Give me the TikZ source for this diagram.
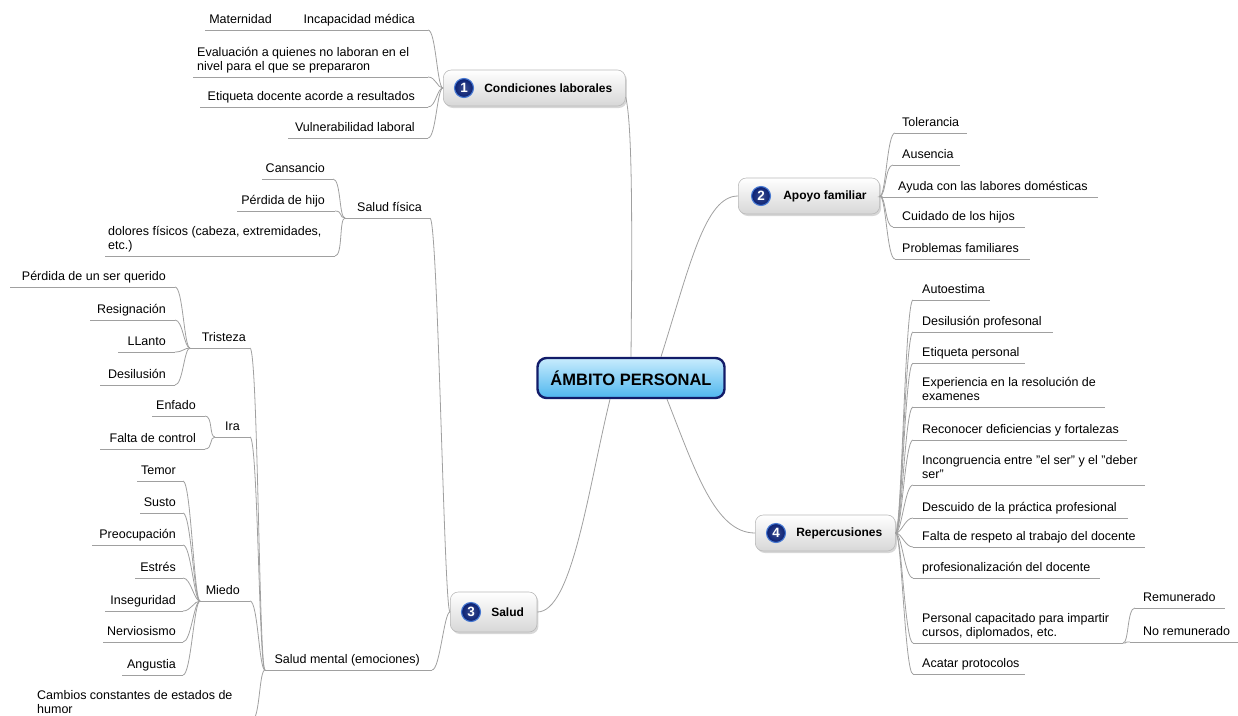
\documentclass[tikz,border=0pt]{standalone}
\usepackage{fontspec}
\setmainfont{Liberation Sans}
\usetikzlibrary{shadows}
\definecolor{linegray}{RGB}{160,160,160}
\definecolor{boxgray}{RGB}{215,215,215}
\definecolor{boxedge}{RGB}{185,185,185}
\definecolor{badgeblue}{RGB}{10,32,115}
\definecolor{badgering}{RGB}{70,120,210}
\definecolor{ctop}{RGB}{200,236,253}
\definecolor{cbot}{RGB}{78,182,238}
\definecolor{cedge}{RGB}{18,28,105}
\newcommand\leaffont{\fontsize{12.5}{14}\selectfont}
\newcommand\twolines[1]{\begin{tabular}[b]{@{}l@{}}#1\end{tabular}}
\tikzset{
  conn/.style={draw=linegray, line width=0.8pt},
  uline/.style={draw=linegray, line width=0.8pt},
  leaf/.style={inner sep=0pt, font=\leaffont},
  mainbox/.style={rounded corners=8pt, top color=white, bottom color=boxgray,
    draw=boxedge, line width=0.6pt, minimum height=36pt, inner xsep=13pt,
    font=\bfseries\fontsize{12}{14}\selectfont,
    drop shadow={shadow xshift=1.5pt, shadow yshift=-2pt, opacity=0.35, fill=black!45}},
  badge/.style={circle, minimum size=19pt, inner sep=0pt, inner color=badgeblue!80!white,
    outer color=badgeblue, draw=badgering, line width=1.1pt,
    text=white, font=\bfseries\fontsize{13.5}{13.5}\selectfont},
  central/.style={rounded corners=9pt, top color=ctop, bottom color=cbot, draw=cedge,
    line width=2.4pt, minimum width=187pt, minimum height=40pt,
    font=\bfseries\fontsize{16.5}{18}\selectfont}
}
% left leaf: name, text right x, uline left x, uline right x, uline y, fan, text
\newcommand\lleaf[7]{%
  \node[leaf,anchor=base east] (#1) at (#2,#5-7) {#7};
  \coordinate (#1f) at (#3,#5);
  \coordinate (#1e) at (#4,#5);
  \draw[uline] (#1f) -- (#1e);
  \draw[conn] (#1e) .. controls +(8,0) and +(-6,0) .. (#6);
}
% left leaf, left aligned text: name, text left x, ...
\newcommand\lleafm[7]{%
  \node[leaf,anchor=base west] (#1) at (#2,#5-7) {#7};
  \coordinate (#1f) at (#3,#5);
  \coordinate (#1e) at (#4,#5);
  \draw[uline] (#1f) -- (#1e);
  \draw[conn] (#1e) .. controls +(8,0) and +(-6,0) .. (#6);
}
% right leaf: name, text left x, uline left x, uline right x, uline y, fan, text
\newcommand\rleaf[7]{%
  \node[leaf,anchor=base west] (#1) at (#2,#5-7) {#7};
  \coordinate (#1f) at (#3,#5);
  \coordinate (#1e) at (#4,#5);
  \draw[uline] (#1f) -- (#1e);
  \draw[conn] (#6) .. controls +(6,0) and +(-8,0) .. (#1f);
}
\begin{document}
\begin{tikzpicture}[x=1pt,y=-1pt]
\useasboundingbox (0,0) rectangle (1238,715);

% central
\node[central] (C) at (631,378) {ÁMBITO PERSONAL};

% main boxes
\node[mainbox, anchor=west] (c1) at (443,88) {\hspace*{28pt}Condiciones laborales};
\node[badge] (b1) at ([xshift=21pt]c1.west) {1};
\node[mainbox, anchor=west] (a2) at (738,196) {\hspace*{32pt}Apoyo familiar};
\node[badge] (b2) at ([xshift=23pt]a2.west) {2};
\node[mainbox, anchor=west, minimum height=40pt] (s3) at (450,612) {\hspace*{28pt}Salud};
\node[badge] (b3) at ([xshift=21pt]s3.west) {3};
\node[mainbox, anchor=west] (r4) at (755,533) {\hspace*{28pt}Repercusiones};
\node[badge] (b4) at ([xshift=21pt]r4.west) {4};

% central connectors
\coordinate (c1k) at ([yshift=-9pt]c1.east);
\draw[conn] (C.north) .. controls (632,250) and (633,125) .. (c1k);
\draw[conn] ([xshift=30pt]C.north) .. controls (690,265) and (705,196) .. (a2.west);
\draw[conn] ([xshift=-21pt]C.south) .. controls (588,490) and (572,612) .. (s3.east);
\draw[conn] ([xshift=36pt]C.south) .. controls (695,470) and (715,533) .. (r4.west);

% Condiciones laborales
\node[leaf,anchor=base east] (mat) at (272,23) {Maternidad};
\coordinate (matf) at (205,30);
\coordinate (mate) at (297,30);
\draw[uline] (matf) -- (mate);
\lleaf{inc}{415}{297}{428}{30}{c1.west}{Incapacidad médica}
\lleafm{eva}{197}{193}{428}{77}{c1.west}{\twolines{Evaluación a quienes no laboran en el\\nivel para el que se prepararon}}
\lleaf{eti}{415}{200}{428}{107}{c1.west}{Etiqueta docente acorde a resultados}
\lleaf{vul}{415}{288}{428}{138}{c1.west}{Vulnerabilidad laboral}

% Salud
\lleaf{sf}{422}{345}{430}{218}{s3.west}{Salud física}
\lleaf{sm}{420}{265}{432}{670}{s3.west}{Salud mental (emociones)}

\lleaf{can}{325}{262}{333}{179}{sff}{Cansancio}
\lleaf{phi}{325}{237}{335}{211}{sff}{Pérdida de hijo}
\lleafm{dol}{108}{105}{335}{256}{sff}{\twolines{dolores físicos (cabeza, extremidades,\\etc.)}}

\lleaf{tri}{246}{190}{250}{348}{smf}{Tristeza}
\lleaf{ira}{240}{215}{250}{437}{smf}{Ira}
\lleaf{mie}{240}{200}{250}{601}{smf}{Miedo}
\lleafm{cam}{37}{33}{252}{720}{smf}{\twolines{Cambios constantes de estados de\\humor}}

\lleaf{psq}{166}{10}{175}{287}{trif}{Pérdida de un ser querido}
\lleaf{res}{166}{90}{175}{320}{trif}{Resignación}
\lleaf{lla}{166}{118}{175}{352}{trif}{LLanto}
\lleaf{dsl}{166}{100}{175}{385}{trif}{Desilusión}

\lleaf{enf}{196}{152}{205}{416}{iraf}{Enfado}
\lleaf{fdc}{196}{100}{205}{449}{iraf}{Falta de control}

\lleaf{tem}{176}{137}{183}{481}{mief}{Temor}
\lleaf{sus}{176}{140}{183}{513}{mief}{Susto}
\lleaf{pre}{176}{92}{183}{545}{mief}{Preocupación}
\lleaf{est}{176}{135}{183}{578}{mief}{Estrés}
\lleaf{ins}{176}{105}{183}{611}{mief}{Inseguridad}
\lleaf{ner}{176}{103}{183}{642}{mief}{Nerviosismo}
\lleaf{ang}{176}{122}{183}{675}{mief}{Angustia}

% Apoyo familiar
\rleaf{tol}{902}{895}{967}{133}{a2.east}{Tolerancia}
\rleaf{aus}{902}{893}{960}{165}{a2.east}{Ausencia}
\rleaf{ayu}{898}{882}{1098}{197}{a2.east}{Ayuda con las labores domésticas}
\rleaf{cui}{902}{893}{1025}{227}{a2.east}{Cuidado de los hijos}
\rleaf{pro}{902}{895}{1030}{259}{a2.east}{Problemas familiares}

% Repercusiones
\rleaf{aut}{922}{913}{990}{300}{r4.east}{Autoestima}
\rleaf{dpr}{922}{913}{1053}{332}{r4.east}{Desilusión profesonal}
\rleaf{epe}{922}{913}{1025}{363}{r4.east}{Etiqueta personal}
\rleaf{exp}{922}{913}{1105}{407}{r4.east}{\twolines{Experiencia en la resolución de\\examenes}}
\rleaf{rec}{922}{913}{1127}{440}{r4.east}{Reconocer deficiencias y fortalezas}
\rleaf{inco}{922}{913}{1145}{485}{r4.east}{\twolines{Incongruencia entre "el ser" y el "deber\\ser"}}
\rleaf{dpp}{922}{913}{1128}{518}{r4.east}{Descuido de la práctica profesional}
\rleaf{frt}{922}{913}{1145}{547}{r4.east}{Falta de respeto al trabajo del docente}
\rleaf{pdd}{922}{913}{1100}{578}{r4.east}{profesionalización del docente}
\rleaf{pca}{922}{913}{1123}{643}{r4.east}{\twolines{Personal capacitado para impartir\\cursos, diplomados, etc.}}
\rleaf{aca}{922}{913}{1025}{674}{r4.east}{Acatar protocolos}

\rleaf{rem}{1143}{1135}{1225}{608}{pcae}{Remunerado}
\rleaf{nor}{1143}{1130}{1238}{642}{pcae}{No remunerado}
\end{tikzpicture}
\end{document}
